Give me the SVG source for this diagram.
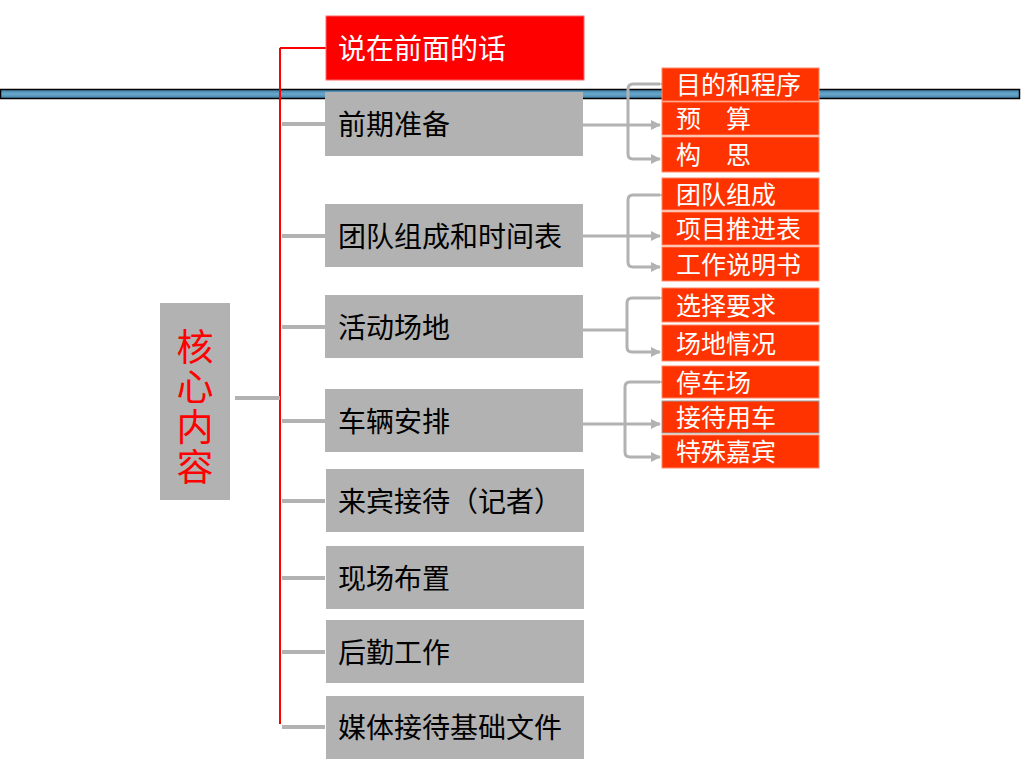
<svg xmlns="http://www.w3.org/2000/svg" width="1024" height="768" viewBox="0 0 1024 768">
<defs>
<linearGradient id="bar" x1="0" y1="0" x2="0" y2="1">
<stop offset="0" stop-color="#3f7fa6"/><stop offset="0.5" stop-color="#6aa8cc"/><stop offset="1" stop-color="#3f7fa6"/>
</linearGradient>
<marker id="ah" viewBox="0 0 10 10" refX="9" refY="5" markerWidth="10" markerHeight="10" markerUnits="userSpaceOnUse" orient="auto">
<path d="M0,0 L10,5 L0,10 Z" fill="#b2b2b2"/>
</marker>
<style>
.g{fill:#b2b2b2}
.o{fill:#ff3300;stroke:#ff8866;stroke-width:1}
.tb{font-family:"Noto Sans CJK SC","Noto Sans",sans-serif;font-size:28px;fill:#000;dominant-baseline:central}
.tw{font-family:"Noto Sans CJK SC","Noto Sans",sans-serif;font-size:25px;fill:#fff;dominant-baseline:central}
.tr{font-family:"Noto Sans CJK SC","Noto Sans",sans-serif;font-size:37px;fill:#ff0000;writing-mode:vertical-rl;letter-spacing:3px}
.c{fill:none;stroke:#b2b2b2;stroke-width:4}
.ca{fill:none;stroke:#b2b2b2;stroke-width:3;stroke-linejoin:round}
</style>
</defs>
<rect x="0.5" y="89.5" width="1019" height="9" fill="url(#bar)" stroke="#000" stroke-width="1.5"/>
<g id="connectors">
<path d="M280,48 H326 M280,48 V724" fill="none" stroke="#ff0000" stroke-width="2"/>
<path class="c" d="M235,398 H280 M282,124 H325 M282,236 H325 M282,327 H325 M282,421 H325 M282,501 H325 M282,578 H325 M282,652 H325 M282,727 H325"/>
<path class="ca" d="M583,125 H628"/>
<path class="ca" d="M660,84 H633 Q628,84 628,89 V154 Q628,159 633,159 H660" marker-start="url(#ah)" marker-end="url(#ah)"/>
<path class="ca" d="M628,125 H660" marker-end="url(#ah)"/>
<path class="ca" d="M583,236 H628"/>
<path class="ca" d="M660,195 H633 Q628,195 628,200 V262 Q628,267 633,267 H660" marker-start="url(#ah)" marker-end="url(#ah)"/>
<path class="ca" d="M628,236 H660" marker-end="url(#ah)"/>
<path class="ca" d="M583,330 H627"/>
<path class="ca" d="M660,298 H632 Q627,298 627,303 V347 Q627,352 632,352 H660" marker-start="url(#ah)" marker-end="url(#ah)"/>
<path class="ca" d="M583,424 H625"/>
<path class="ca" d="M660,382 H630 Q625,382 625,387 V452 Q625,457 630,457 H660" marker-start="url(#ah)" marker-end="url(#ah)"/>
<path class="ca" d="M625,424 H660" marker-end="url(#ah)"/>
</g>
<g id="n-core"><rect class="g" x="160" y="303" width="70" height="197"/>
<text class="tr" x="195" y="328">核心内容</text></g>
<g id="n-intro"><rect x="326" y="16" width="258" height="64" fill="#ff0000" stroke="#ff6666" stroke-width="1"/><text class="tb" x="338" y="47" style="fill:#fff">说在前面的话</text></g>
<g id="n-prep"><rect class="g" x="325" y="92" width="258" height="64"/><text class="tb" x="338" y="123">前期准备</text></g>
<g id="n-team"><rect class="g" x="325" y="204" width="258" height="63"/><text class="tb" x="338" y="235">团队组成和时间表</text></g>
<g id="n-venue"><rect class="g" x="325" y="295" width="258" height="63"/><text class="tb" x="338" y="326">活动场地</text></g>
<g id="n-car"><rect class="g" x="325" y="389" width="258" height="63"/><text class="tb" x="338" y="420">车辆安排</text></g>
<g id="n-guest"><rect class="g" x="326" y="469" width="258" height="63"/><text class="tb" x="338" y="500">来宾接待（记者）</text></g>
<g id="n-site"><rect class="g" x="326" y="546" width="258" height="63"/><text class="tb" x="338" y="577">现场布置</text></g>
<g id="n-logi"><rect class="g" x="326" y="620" width="258" height="63"/><text class="tb" x="338" y="651">后勤工作</text></g>
<g id="n-media"><rect class="g" x="326" y="696" width="258" height="63"/><text class="tb" x="338" y="726">媒体接待基础文件</text></g>
<g id="s1"><rect class="o" x="662" y="68" width="157" height="33"/><text class="tw" x="676" y="83">目的和程序</text></g>
<g id="s2"><rect class="o" x="662" y="102" width="157" height="33"/><text class="tw" x="676" y="117">预　算</text></g>
<g id="s3"><rect class="o" x="662" y="137" width="157" height="35"/><text class="tw" x="676" y="153">构　思</text></g>
<g id="s4"><rect class="o" x="662" y="178" width="157" height="32"/><text class="tw" x="676" y="193">团队组成</text></g>
<g id="s5"><rect class="o" x="662" y="212" width="157" height="33"/><text class="tw" x="676" y="227">项目推进表</text></g>
<g id="s6"><rect class="o" x="662" y="247" width="157" height="34"/><text class="tw" x="676" y="263">工作说明书</text></g>
<g id="s7"><rect class="o" x="662" y="288" width="157" height="34"/><text class="tw" x="676" y="304">选择要求</text></g>
<g id="s8"><rect class="o" x="662" y="325" width="157" height="36"/><text class="tw" x="676" y="342">场地情况</text></g>
<g id="s9"><rect class="o" x="662" y="366" width="157" height="32"/><text class="tw" x="676" y="381">停车场</text></g>
<g id="s10"><rect x="662" y="401" width="157" height="32" fill="#ff3300" stroke="#999" stroke-width="1"/><text class="tw" x="676" y="416">接待用车</text></g>
<g id="s11"><rect class="o" x="662" y="435" width="157" height="33"/><text class="tw" x="676" y="450">特殊嘉宾</text></g>
</svg>
